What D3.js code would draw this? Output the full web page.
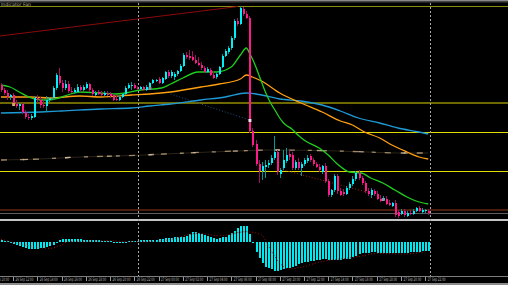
<!DOCTYPE html>
<html><head><meta charset="utf-8">
<script src="https://cdn.jsdelivr.net/npm/d3@7"></script>
<style>html,body{margin:0;padding:0;background:#000;overflow:hidden}svg{display:block}</style>
</head><body><svg id="c" width="508" height="285"></svg>
<script>
// ---- data (M15 bars, index 0..141) ----
const open=[1.1815,1.1810,1.1807,1.1803,1.1805,1.1796,1.1794,1.1796,1.1788,1.1783,
1.1782,1.1783,1.1802,1.1800,1.1795,1.1794,1.1800,1.1802,1.1812,1.1824,
1.1817,1.1812,1.1816,1.1809,1.1808,1.1808,1.1813,1.1810,1.1812,1.1816,
1.1810,1.1805,1.1808,1.1807,1.1805,1.1807,1.1806,1.1805,1.1801,1.1800,
1.1803,1.1806,1.1812,1.1814,1.1815,1.1812,1.1811,1.1813,1.1810,1.1813,
1.1817,1.1819,1.1821,1.1817,1.1821,1.1828,1.1824,1.1823,1.1826,1.1829,
1.1834,1.1845,1.1844,1.1843,1.1840,1.1837,1.1835,1.1832,1.1828,1.1830,
1.1825,1.1823,1.1826,1.1833,1.1844,1.1848,1.1852,1.1862,1.1879,1.1876,
1.1891,1.1886,1.1882,1.1769,1.1756,1.1736,1.1729,1.1733,1.1735,1.1737,
1.1742,1.1748,1.1726,1.1732,1.1739,1.1746,1.1745,1.1732,1.1738,1.1732,
1.1736,1.1739,1.1744,1.1740,1.1736,1.1733,1.1728,1.1734,1.1719,1.1705,
1.1710,1.1724,1.1709,1.1708,1.1706,1.1712,1.1716,1.1721,1.1727,1.1722,
1.1717,1.1709,1.1705,1.1709,1.1706,1.1701,1.1700,1.1701,1.1697,1.1694,
1.1697,1.1688,1.1686,1.1689,1.1684,1.1687,1.1686,1.1689,1.1692,1.1688,
1.1689,1.1689];
const high=[1.1817,1.1812,1.1810,1.1806,1.1807,1.1800,1.1797,1.1797,1.1790,1.1786,
1.1786,1.1804,1.1805,1.1803,1.1800,1.1804,1.1803,1.1814,1.1827,1.1832,
1.1820,1.1820,1.1819,1.1813,1.1812,1.1816,1.1815,1.1815,1.1818,1.1817,
1.1812,1.1809,1.1810,1.1809,1.1809,1.1809,1.1808,1.1806,1.1804,1.1805,
1.1807,1.1814,1.1817,1.1818,1.1817,1.1814,1.1814,1.1814,1.1815,1.1818,
1.1821,1.1821,1.1823,1.1823,1.1829,1.1830,1.1830,1.1828,1.1830,1.1836,
1.1847,1.1848,1.1850,1.1849,1.1845,1.1843,1.1838,1.1834,1.1833,1.1832,
1.1829,1.1828,1.1834,1.1846,1.1851,1.1854,1.1864,1.1881,1.1882,1.1894,
1.1893,1.1889,1.1884,1.1772,1.1760,1.1740,1.1738,1.1740,1.1740,1.1745,
1.1764,1.1750,1.1732,1.1750,1.1752,1.1750,1.1748,1.1740,1.1742,1.1738,
1.1742,1.1745,1.1746,1.1742,1.1738,1.1736,1.1735,1.1737,1.1721,1.1711,
1.1726,1.1726,1.1712,1.1711,1.1714,1.1718,1.1724,1.1729,1.1730,1.1724,
1.1719,1.1712,1.1712,1.1711,1.1709,1.1705,1.1704,1.1704,1.1700,1.1698,
1.1700,1.1690,1.1691,1.1691,1.1689,1.1690,1.1691,1.1693,1.1694,1.1692,
1.1691,1.1691];
const low=[1.1808,1.1805,1.1800,1.1800,1.1794,1.1792,1.1790,1.1786,1.1781,1.1780,
1.1780,1.1782,1.1797,1.1792,1.1792,1.1788,1.1798,1.1800,1.1810,1.1815,
1.1808,1.1810,1.1807,1.1807,1.1806,1.1807,1.1808,1.1809,1.1811,1.1808,
1.1804,1.1804,1.1805,1.1804,1.1804,1.1804,1.1802,1.1799,1.1799,1.1799,
1.1802,1.1805,1.1811,1.1810,1.1811,1.1810,1.1810,1.1809,1.1809,1.1812,
1.1816,1.1818,1.1816,1.1816,1.1820,1.1822,1.1822,1.1820,1.1824,1.1828,
1.1833,1.1841,1.1840,1.1839,1.1836,1.1834,1.1830,1.1827,1.1827,1.1824,
1.1821,1.1821,1.1825,1.1832,1.1843,1.1846,1.1850,1.1860,1.1874,1.1875,
1.1884,1.1881,1.1767,1.1753,1.1734,1.1717,1.1720,1.1722,1.1732,1.1735,
1.1740,1.1725,1.1722,1.1730,1.1737,1.1740,1.1730,1.1730,1.1730,1.1724,
1.1734,1.1737,1.1738,1.1734,1.1732,1.1728,1.1726,1.1717,1.1703,1.1703,
1.1708,1.1706,1.1704,1.1704,1.1705,1.1710,1.1714,1.1719,1.1720,1.1715,
1.1707,1.1704,1.1702,1.1704,1.1700,1.1698,1.1699,1.1695,1.1694,1.1693,
1.1683,1.1682,1.1685,1.1683,1.1683,1.1685,1.1685,1.1688,1.1688,1.1686,
1.1687,1.1685];
const close=[1.1810,1.1807,1.1803,1.1805,1.1796,1.1794,1.1796,1.1788,1.1783,1.1782,
1.1784,1.1802,1.1800,1.1795,1.1794,1.1800,1.1802,1.1812,1.1825,1.1817,
1.1812,1.1816,1.1809,1.1808,1.1810,1.1813,1.1810,1.1813,1.1816,1.1810,
1.1806,1.1807,1.1806,1.1805,1.1807,1.1805,1.1804,1.1800,1.1800,1.1803,
1.1806,1.1812,1.1815,1.1815,1.1812,1.1811,1.1813,1.1810,1.1813,1.1817,
1.1820,1.1820,1.1817,1.1822,1.1828,1.1824,1.1828,1.1826,1.1829,1.1834,
1.1845,1.1843,1.1842,1.1840,1.1837,1.1835,1.1832,1.1828,1.1831,1.1825,
1.1822,1.1826,1.1833,1.1844,1.1849,1.1852,1.1862,1.1879,1.1876,1.1892,
1.1886,1.1882,1.1769,1.1755,1.1736,1.1729,1.1734,1.1735,1.1737,1.1742,
1.1748,1.1728,1.1730,1.1740,1.1745,1.1743,1.1732,1.1738,1.1732,1.1736,
1.1740,1.1742,1.1740,1.1736,1.1733,1.1730,1.1734,1.1719,1.1705,1.1710,
1.1724,1.1709,1.1705,1.1706,1.1712,1.1716,1.1721,1.1727,1.1722,1.1717,
1.1709,1.1706,1.1710,1.1706,1.1701,1.1699,1.1702,1.1696,1.1695,1.1697,
1.1685,1.1684,1.1689,1.1685,1.1687,1.1686,1.1689,1.1692,1.1689,1.1690,
1.1690,1.1687];

// moving averages read at sample bars
const maFastIdx=[0,3,6,10,13,16,19,22,26,33,38,41,46,53,56,60,65,71,76,79,81,82,83,84,85,86,87,88,89,90,91,92,93,94,96,98,100,105,108,111,115,119,122,126,130,134,137,141];
const maFast=[1.1815,1.1813,1.1808,1.1802,1.1800,1.1800,1.1802,1.1805,1.1808,1.1807,1.1806,1.1807,1.1810,1.1812,1.1816,1.1822,1.1828,1.1828,1.1833,1.1845,1.1852,1.1847,1.1841,1.1834,1.1826,1.1818,1.1810,1.1803,1.1797,1.1792,1.1787,1.1782,1.1778,1.1775,1.1771,1.1765,1.1760,1.1752,1.1745,1.1736,1.1728,1.1727,1.1722,1.1717,1.1710,1.1703,1.1699,1.1696];
const maMidIdx=[0,10,16,26,33,43,49,56,66,72,79,81,83,86,92,99,106,112,116,120,125,129,134,138,141];
const maMid=[1.1803,1.1803,1.1802,1.1804,1.1803,1.1805,1.1806,1.1808,1.1813,1.1816,1.1821,1.1825,1.1823,1.1819,1.1807,1.1797,1.1788,1.1779,1.1775,1.1768,1.1762,1.1755,1.1748,1.1743,1.1741];
const maSlowIdx=[0,13,20,33,43,49,56,66,74,81,86,92,99,106,112,118,125,131,138,141];
const maSlow=[1.1787,1.1788,1.1789,1.1791,1.1792,1.1794,1.1796,1.1800,1.1803,1.1807,1.1805,1.1801,1.1799,1.1795,1.1789,1.1782,1.1777,1.1772,1.1768,1.1766];
const dashIdx=[0,13,26,38,47,54,69,78,89,111,121,131,141];
const dashVal=[1.1740,1.1741,1.1743,1.1744,1.1745,1.1746,1.1748,1.1749,1.1750,1.1749,1.1748,1.1747,1.1747];

// horizontal levels
const levelPrices=[1.1894,1.1797,1.1768,1.1729,1.1690,1.1687];
// drawn objects
const trendIdx=[-0.33,78.2], trendVal=[1.1864,1.18935];
const blueDotIdx=[56,82], blueDotVal=[1.1806,1.1780];
const redDotIdx=[92,122], redDotVal=[1.1731,1.1707];
const markIdx=[4,49,82,126], markVal=[1.1796,1.1812,1.1780,1.1701];
const vLineIdx=[45.2,141.6];

// oscillator sub-window
const macdHist=[2,1,0.5,-1,-2,-3.3,-4.5,-5.5,-6.5,-7,
-7.5,-7.7,-7.3,-6.7,-6,-5,-4,-3,-1.5,1.5,
2.5,3,3,3,2.5,2.5,2.5,2,2,2,
1.5,1.5,1.5,1,1,1,0.5,-0.5,-1,-1,
-1,-0.5,0.5,1,1,1,1.5,1.5,1.5,2,
2,2,2.5,3,3.5,4,4.2,4.4,4.4,4.4,
4.4,5.7,7.3,9.3,9.3,9,7.7,6.7,5.7,4.4,
3.3,3,3.7,4.4,5,6.7,8.3,10.7,13.3,15.7,
15.7,15.7,7.3,-1.5,-10,-16.7,-21.7,-25,-26.7,-27.7,
-29,-29.3,-28.3,-27.7,-26.7,-26,-25,-24,-22.7,-21.7,
-20.7,-20,-19.3,-19,-18.3,-18.3,-17.7,-17.7,-18,-18,
-18,-18,-18,-17.7,-17.7,-17,-15.7,-14.3,-12.3,-11.7,
-11,-11,-10.7,-10.7,-11,-11,-11,-11,-11,-11,
-11.7,-11.7,-11.7,-11.7,-11,-10.7,-10.7,-10.7,-10,-9.7,
-9.3,-9];
const signalIdx=[0,3,11,16,20,22,28,36,42,46,55,65,72,81,86,89,92,95,100,104,109,111,118,124,133,140];
const signalVal=[2.4,0,-5,-6.6,-3.3,0,0.5,1,0,0,1.7,8.4,6,10,6.7,-8.3,-21.3,-27.3,-25,-21.3,-18.3,-17.6,-15,-11.6,-12.3,-10];

// time axis
const tickIdx=[-4,4,12,20,28,36,44,52,60,68,76,84,92,100,108,116,124,132,140];
const tickLabels=["26 Sep 10:00","26 Sep 12:00","26 Sep 14:00","26 Sep 16:00","26 Sep 18:00","26 Sep 20:00","26 Sep 22:00",
"27 Sep 00:00","27 Sep 02:00","27 Sep 04:00","27 Sep 06:00","27 Sep 08:00","27 Sep 10:00","27 Sep 12:00",
"27 Sep 14:00","27 Sep 16:00","27 Sep 18:00","27 Sep 20:00","27 Sep 22:00"];
const titleText="Indicator Fan";

// ---- drawing ----
const W=508,H=285;
const svg=d3.select("#c");
svg.append("rect").attr("width",W).attr("height",H).attr("fill","#000");
const defs=svg.append("defs");
defs.append("clipPath").attr("id","cm").append("rect").attr("x",0).attr("y",2).attr("width",W).attr("height",217);
defs.append("clipPath").attr("id","cs").append("rect").attr("x",0).attr("y",221).attr("width",W).attr("height",55);

const x=d3.scaleLinear().domain([0,141]).range([1,428.2]);
const y=d3.scaleLinear().domain([1.1690,1.1894]).range([210,6]);
const hy=d3.scaleLinear().domain([-30,16]).range([271.7,225.7]);
const zip=(a,b)=>a.map((v,k)=>[v,b[k]]);

// frame pieces
svg.append("rect").attr("x",0).attr("y",0).attr("width",W).attr("height",1).attr("fill","#8a8a8a");
svg.append("rect").attr("x",0).attr("y",1).attr("width",W).attr("height",1.5).attr("fill","#444");
svg.append("rect").attr("x",0).attr("y",219).attr("width",W).attr("height",2).attr("fill","#c4c4c4");
svg.append("rect").attr("x",0).attr("y",283).attr("width",W).attr("height",2).attr("fill","#8c8c8c");

const main=svg.append("g").attr("clip-path","url(#cm)");
// levels
const lvColors=["#8c8c10","#6e6a00","#dcdc00","#dcdc00","#4a1c0c","#5c5c5c"];
const lvWidths=[1,2,1,1,2,1];
main.selectAll("line.lv").data(levelPrices).join("line")
 .attr("x1",0).attr("x2",W)
 .attr("y1",(d,k)=>Math.round(y(d))+(lvWidths[k]===1?0.5:0)).attr("y2",(d,k)=>Math.round(y(d))+(lvWidths[k]===1?0.5:0))
 .attr("stroke",(d,k)=>lvColors[k]).attr("stroke-width",(d,k)=>lvWidths[k]).attr("shape-rendering","crispEdges");

const ln=d3.line().x(d=>x(d[0])).y(d=>y(d[1])).curve(d3.curveMonotoneX);
const lnStraight=d3.line().x(d=>x(d[0])).y(d=>y(d[1]));
// dashed tan line
main.append("path").attr("d",ln(zip(dashIdx,dashVal))).attr("fill","none").attr("stroke","#2a241a").attr("stroke-width",1);
main.append("path").attr("d",ln(zip(dashIdx,dashVal))).attr("fill","none").attr("stroke","#a08a6a").attr("stroke-width",1.3).attr("stroke-dasharray","6,13,4,9");
main.append("path").attr("d",ln(zip(dashIdx,dashVal))).attr("fill","none").attr("stroke","#d8c0a0").attr("stroke-width",1.3).attr("stroke-dasharray","0,22,5,15").attr("opacity",0.8);
// trend line
main.append("path").attr("d",lnStraight(zip(trendIdx,trendVal))).attr("fill","none").attr("stroke","#8c0a0a").attr("stroke-width",1);
// dotted zigzag lines
main.append("path").attr("d",lnStraight(zip(blueDotIdx,blueDotVal))).attr("fill","none").attr("stroke","#1d4f8a").attr("stroke-width",1).attr("stroke-dasharray","1,2");
main.append("path").attr("d",lnStraight(zip(redDotIdx,redDotVal))).attr("fill","none").attr("stroke","#9a2a10").attr("stroke-width",1).attr("stroke-dasharray","1,2");
// moving averages
main.append("path").attr("d",ln(zip(maSlowIdx,maSlow))).attr("fill","none").attr("stroke","#1e9ad6").attr("stroke-width",1.3);
main.append("path").attr("d",ln(zip(maMidIdx,maMid))).attr("fill","none").attr("stroke","#ffa010").attr("stroke-width",1.3);
main.append("path").attr("d",ln(zip(maFastIdx,maFast))).attr("fill","none").attr("stroke","#1fcf1f").attr("stroke-width",1.3);

// candles
const bars=d3.range(open.length).map(i=>({i,o:open[i],h:high[i],l:low[i],c:close[i]}));
const g=main.append("g").attr("shape-rendering","crispEdges");
g.selectAll("line").data(bars).join("line")
 .attr("x1",d=>Math.round(x(d.i))+0.5).attr("x2",d=>Math.round(x(d.i))+0.5)
 .attr("y1",d=>y(d.h)).attr("y2",d=>y(d.l))
 .attr("stroke",d=>d.c>=d.o?"#009a9a":"#9a1460").attr("stroke-width",1);
g.selectAll("rect").data(bars).join("rect")
 .attr("x",d=>Math.round(x(d.i))).attr("width",2)
 .attr("y",d=>y(Math.max(d.o,d.c))).attr("height",d=>Math.max(1,Math.abs(y(d.o)-y(d.c))))
 .attr("fill",d=>d.c>=d.o?"#00f0f8":"#ff1a8c");
// markers
const mkColors=["#e0a060","#8090a0","#f0e0e8","#8898b0"];
main.selectAll("rect.mk").data(markIdx).join("rect").attr("class","mk")
 .attr("x",d=>x(d)-1).attr("y",(d,k)=>y(markVal[k])-1).attr("width",3).attr("height",3)
 .attr("fill",(d,k)=>mkColors[k]);

// title text
svg.append("text").attr("x",1).attr("y",6).text(titleText)
 .attr("font-family","DejaVu Sans").attr("font-size",4.6).attr("fill","#b8b49a")
 .attr("textLength",30).attr("lengthAdjust","spacingAndGlyphs");

// sub-window
const sub=svg.append("g").attr("clip-path","url(#cs)");
sub.append("g").attr("shape-rendering","crispEdges").selectAll("rect").data(macdHist).join("rect")
 .attr("x",(d,i)=>Math.round(x(i))).attr("width",2)
 .attr("y",d=>hy(Math.max(0,d))).attr("height",d=>Math.max(1,Math.abs(hy(d)-hy(0))))
 .attr("fill","#00e8f0");
sub.append("path").attr("d",d3.line().x(d=>x(d[0])).y(d=>hy(d[1])).curve(d3.curveMonotoneX)(zip(signalIdx,signalVal)))
 .attr("fill","none").attr("stroke","#a01212").attr("stroke-width",1).attr("stroke-dasharray","1,2");

// vertical dashed lines
svg.selectAll("line.vl").data(vLineIdx).join("line").attr("class","vl")
 .attr("x1",d=>Math.round(x(d))+0.5).attr("x2",d=>Math.round(x(d))+0.5)
 .attr("y1",3).attr("y2",276).attr("stroke","#a8a8a8").attr("stroke-width",1).attr("stroke-dasharray","2,2")
 .attr("shape-rendering","crispEdges");

// time axis
svg.append("line").attr("x1",0).attr("x2",W).attr("y1",276.5).attr("y2",276.5).attr("stroke","#7c7c7c").attr("shape-rendering","crispEdges");
const axis=d3.axisBottom(x).tickValues(tickIdx).tickFormat((d,k)=>tickLabels[k]).tickSize(4).tickSizeOuter(0);
const ax=svg.append("g").attr("transform","translate(0,276.5)").call(axis);
ax.select(".domain").remove();
ax.selectAll(".tick line").attr("stroke","#9a9a9a").attr("shape-rendering","crispEdges");
const sx=0.56;
ax.selectAll(".tick text").attr("text-anchor","start").attr("x",2/sx).attr("y",1.2).attr("dy","0.71em")
 .attr("transform",`scale(${sx},1)`)
 .attr("font-family","DejaVu Sans").attr("font-size",4.8).attr("fill","#b8b8b8");
</script></body></html>
